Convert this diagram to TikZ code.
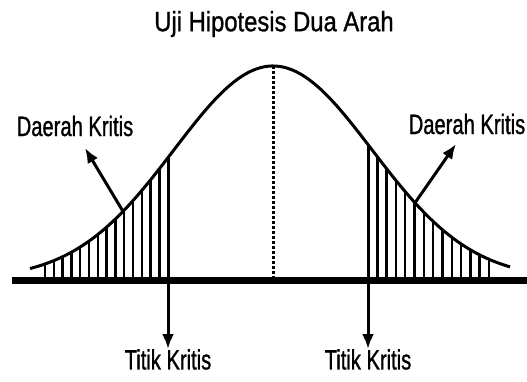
\documentclass[tikz,border=0pt]{standalone}
\usepackage{fontspec}
\usetikzlibrary{arrows.meta}
\newfontfamily\labelfont[FakeStretch=0.72,FakeBold=1]{Liberation Sans}
\newfontfamily\titlefont[FakeStretch=0.85,FakeBold=1]{Liberation Sans}
\tikzset{
  declare function={gauss(\t)=279-213*exp(-0.5*((\t-273)/99)^2);},
  hatch/.style={line width=2.4pt},
  pointer/.style={line width=3pt,-{Latex[length=15pt,width=12pt]}},
  lbl/.style={font=\labelfont\fontsize{28}{30}\selectfont,inner sep=0pt}
}
\begin{document}
\begin{tikzpicture}[x=1pt,y=-1pt]
  \useasboundingbox (0,0) rectangle (527,382);
  \node[font=\titlefont\fontsize{28}{30}\selectfont] (title) at (274,24) {Uji Hipotesis Dua Arah};
  % critical regions
  \begin{scope}
    \clip plot[domain=30:510,samples=120] (\x,{gauss(\x)}) -- (510,280) -- (30,280) -- cycle;
    \draw[hatch] (45,280) -- (45,150);
    \draw[hatch] (53.8,280) -- (53.8,150);
    \draw[hatch] (62.6,280) -- (62.6,150);
    \draw[hatch] (71.4,280) -- (71.4,150);
    \draw[hatch] (80.2,280) -- (80.2,150);
    \draw[hatch] (89,280) -- (89,150);
    \draw[hatch] (97.8,280) -- (97.8,150);
    \draw[hatch] (106.6,280) -- (106.6,150);
    \draw[hatch] (115.4,280) -- (115.4,150);
    \draw[hatch] (124.2,280) -- (124.2,150);
    \draw[hatch] (133,280) -- (133,150);
    \draw[hatch] (141.8,280) -- (141.8,150);
    \draw[hatch] (150.6,280) -- (150.6,150);
    \draw[hatch] (159.4,280) -- (159.4,150);
    \draw[hatch] (377.3,280) -- (377.3,140);
    \draw[hatch] (386.6,280) -- (386.6,140);
    \draw[hatch] (395.9,280) -- (395.9,140);
    \draw[hatch] (405.2,280) -- (405.2,140);
    \draw[hatch] (414.5,280) -- (414.5,140);
    \draw[hatch] (423.8,280) -- (423.8,140);
    \draw[hatch] (433.1,280) -- (433.1,140);
    \draw[hatch] (442.4,280) -- (442.4,140);
    \draw[hatch] (451.7,280) -- (451.7,140);
    \draw[hatch] (461,280) -- (461,140);
    \draw[hatch] (470.3,280) -- (470.3,140);
    \draw[hatch] (479.6,280) -- (479.6,140);
    \draw[hatch] (488.9,280) -- (488.9,140);
  \end{scope}
  % curve and axis
  \draw[line width=3pt,line join=round] plot[domain=30:510,samples=120] (\x,{gauss(\x)});
  \draw[line width=7pt] (12,280) -- (527,280);
  \coordinate (peak) at (273,{gauss(273)});
  \coordinate (mid) at (273,278);
  \draw[line width=3pt,dash pattern=on 3pt off 2pt] (peak) -- (mid);
  % labels
  \node[lbl,anchor=north] (tkl) at (168,349) {Titik Kritis};
  \node[lbl,anchor=north] (tkr) at (368,349) {Titik Kritis};
  \node[lbl] (dkl) at (75,126) {Daerah Kritis};
  \node[lbl] (dkr) at (467,124) {Daerah Kritis};
  \coordinate (ltop) at (168,{gauss(168)});
  \coordinate (rtop) at (368,{gauss(368)});
  \coordinate (lfoot) at (123,{gauss(123)});
  \coordinate (rfoot) at (415,{gauss(415)});
  \coordinate (ltip) at (85,148);
  \coordinate (rtip) at (456,144);
  \draw[pointer] (ltop) -- (tkl.north);
  \draw[pointer] (rtop) -- (tkr.north);
  \draw[pointer] (lfoot) -- (ltip);
  \draw[pointer] (rfoot) -- (rtip);
\end{tikzpicture}
\end{document}
